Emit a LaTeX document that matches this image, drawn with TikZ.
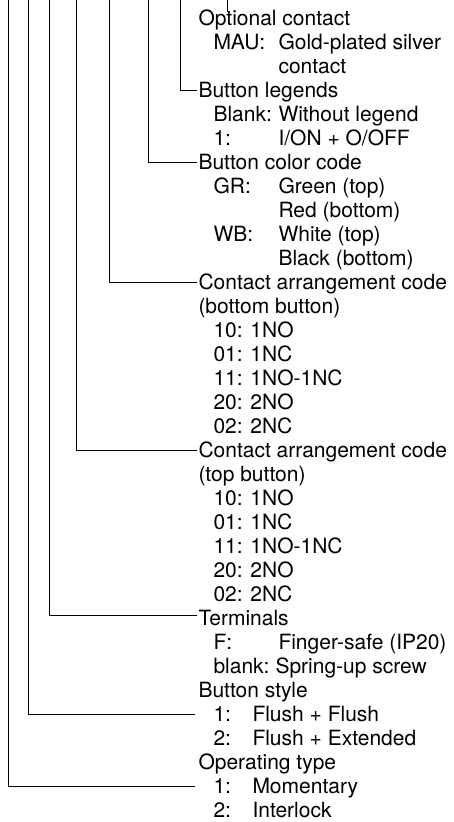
\documentclass[tikz,border=0pt]{standalone}
\usepackage{fontspec}
\setmainfont{TeX Gyre Heros}
\begin{document}
\begin{tikzpicture}[x=1pt,y=-1pt,line width=1pt,
  txt/.style={inner sep=0pt,anchor=base west,font=\fontsize{21}{24}\selectfont,text height=15pt,text depth=0pt}]
\useasboundingbox (0,0) rectangle (454,822);
% headers
\node[txt] (oc)  at (198,25.5)  {Optional contact};
\node[txt] (oc1) at (213,49.5)  {MAU:};
\node[txt] (oc1v) at (278,49.5) {Gold-plated silver};
\node[txt] (oc1w) at (278,73.5) {contact};
\node[txt] (bl)  at (198,97.5)  {Button legends};
\node[txt] (bl1) at (213,121.5) {Blank:};
\node[txt] (bl1v) at (278,121.5) {Without legend};
\node[txt] (bl2) at (213,145.5) {1:};
\node[txt] (bl2v) at (278,145.5) {I/ON + O/OFF};
\node[txt] (bc)  at (198,169.5) {Button color code};
\node[txt] (bc1) at (213,193.5) {GR:};
\node[txt] (bc1v) at (278,193.5) {Green (top)};
\node[txt] (bc1w) at (278,217.5) {Red (bottom)};
\node[txt] (bc2) at (213,241.5) {WB:};
\node[txt] (bc2v) at (278,241.5) {White (top)};
\node[txt] (bc2w) at (278,265.5) {Black (bottom)};
\node[txt] (cab) at (198,289.5) {Contact arrangement code};
\node[txt] (cabb) at (198,313.5) {(bottom button)};
\node[txt] (cab1) at (213,337.5) {10: 1NO};
\node[txt] (cab2) at (213,361.5) {01: 1NC};
\node[txt] (cab3) at (213,385.5) {11: 1NO-1NC};
\node[txt] (cab4) at (213,409.5) {20: 2NO};
\node[txt] (cab5) at (213,433.5) {02: 2NC};
\node[txt] (cat) at (198,457.5) {Contact arrangement code};
\node[txt] (catb) at (198,481.5) {(top button)};
\node[txt] (cat1) at (213,505.5) {10: 1NO};
\node[txt] (cat2) at (213,529.5) {01: 1NC};
\node[txt] (cat3) at (213,553.5) {11: 1NO-1NC};
\node[txt] (cat4) at (213,577.5) {20: 2NO};
\node[txt] (cat5) at (213,601.5) {02: 2NC};
\node[txt] (term) at (198,625.5) {Terminals};
\node[txt] (term1) at (213,649.5) {F:};
\node[txt] (term1v) at (278,649.5) {Finger-safe (IP20)};
\node[txt] (term2) at (213,673.5) {blank:};
\node[txt] (term2v) at (275,673.5) {Spring-up screw};
\node[txt] (bs)  at (198,697.5) {Button style};
\node[txt] (bs1) at (213,721.5) {1:};
\node[txt] (bs1v) at (252,721.5) {Flush + Flush};
\node[txt] (bs2) at (213,745.5) {2:};
\node[txt] (bs2v) at (252,745.5) {Flush + Extended};
\node[txt] (ot)  at (198,769.5) {Operating type};
\node[txt] (ot1) at (213,793.5) {1:};
\node[txt] (ot1v) at (252,793.5) {Momentary};
\node[txt] (ot2) at (213,817.5) {2:};
\node[txt] (ot2v) at (252,817.5) {Interlock};
% leader lines
\coordinate (v227) at (227,0);
\coordinate (v227e) at (227,11.7);
\coordinate (v180) at (180,0);
\coordinate (v148) at (148,0);
\coordinate (v109) at (109,0);
\coordinate (v76) at (76,0);
\coordinate (v49) at (49,0);
\coordinate (v28) at (28,0);
\coordinate (v8) at (8,0);
\draw (v227) -- (v227e);
\draw (v180) |- ([xshift=-1pt]bl.west);
\draw (v148) |- ([xshift=-1pt]bc.west);
\draw (v109) |- ([xshift=-1pt]cab.west);
\draw (v76) |- ([xshift=-1pt]cat.west);
\draw (v49) |- ([xshift=-1pt,yshift=3pt]term.west);
\draw (v28) |- ([xshift=-18pt]bs1.west);
\draw (v8) |- ([xshift=-18pt]ot1.west);
\end{tikzpicture}
\end{document}
